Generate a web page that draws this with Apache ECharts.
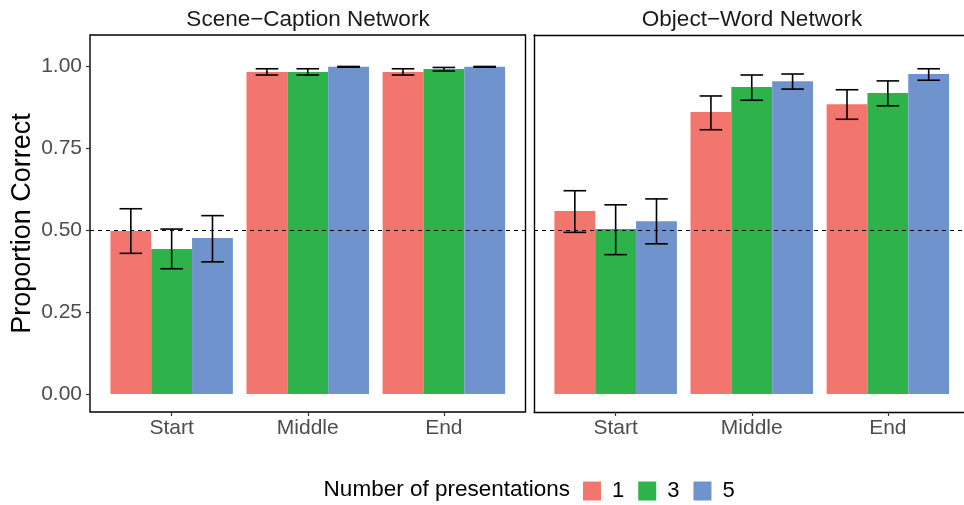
<!DOCTYPE html>
<html>
<head>
<meta charset="utf-8">
<script src="https://cdn.jsdelivr.net/npm/echarts@6/dist/echarts.min.js"></script>
<style>html,body{margin:0;padding:0;background:#fff}#c{width:964px;height:505px}</style>
</head>
<body>
<div id="c"></div>
<script>
// ---- data ----
const categories = ['Start', 'Middle', 'End'];
const groups = ['1', '3', '5'];
const panels = ['Scene\u2212Caption Network', 'Object\u2212Word Network'];
const yTicks = [0, 0.25, 0.5, 0.75, 1.0];
const refLine = 0.5;

// Scene-Caption Network
const sceneMean1 = [0.497, 0.982, 0.982];
const sceneLow1  = [0.429, 0.973, 0.973];
const sceneHigh1 = [0.565, 0.992, 0.992];
const sceneMean3 = [0.442, 0.982, 0.991];
const sceneLow3  = [0.382, 0.973, 0.985];
const sceneHigh3 = [0.503, 0.992, 0.996];
const sceneMean5 = [0.476, 0.998, 0.998];
const sceneLow5  = [0.403, 0.997, 0.997];
const sceneHigh5 = [0.544, 0.999, 0.999];

// Object-Word Network
const objMean1 = [0.558, 0.860, 0.884];
const objLow1  = [0.493, 0.806, 0.838];
const objHigh1 = [0.620, 0.909, 0.928];
const objMean3 = [0.503, 0.936, 0.918];
const objLow3  = [0.425, 0.896, 0.879];
const objHigh3 = [0.577, 0.973, 0.955];
const objMean5 = [0.527, 0.954, 0.976];
const objLow5  = [0.458, 0.930, 0.957];
const objHigh5 = [0.595, 0.976, 0.992];

const colors = ['#F3766E', '#2EB34A', '#6F93CC'];
const FONT = '"Liberation Sans", Arial, Helvetica, sans-serif';

const panelData = [
  { means: [sceneMean1, sceneMean3, sceneMean5], lows: [sceneLow1, sceneLow3, sceneLow5], highs: [sceneHigh1, sceneHigh3, sceneHigh5] },
  { means: [objMean1, objMean3, objMean5], lows: [objLow1, objLow3, objLow5], highs: [objHigh1, objHigh3, objHigh5] }
];

const BARW = 0.3;
const WHISK = 0.083;
const PANEL_W = 435.5;
const UNIT = PANEL_W / 3.2;
const RIGHT_W = 430; // right panel is cut by the image edge
const RIGHT_MAX = 0.4 + RIGHT_W / UNIT;
const BORDER = { color: '#000', width: 1.4 };

const chart = echarts.init(document.getElementById('c'), null, { renderer: 'canvas' });

const grids = [
  { left: 90, top: 35, width: PANEL_W, height: 377, show: true, borderColor: '#000', borderWidth: 1.4, backgroundColor: 'transparent' },
  { left: 534, top: 35, width: RIGHT_W, height: 377, show: false }
];

const xAxes = [0, 1].map(i => ({
  type: 'value', gridIndex: i, min: 0.4, max: i === 0 ? 3.6 : RIGHT_MAX,
  axisLine: { show: i === 1, onZero: false, lineStyle: BORDER },
  splitLine: { show: false },
  axisTick: { show: true, customValues: [1, 2, 3], length: 4, lineStyle: { color: '#333', width: 1.2 } },
  axisLabel: { show: true, customValues: [1, 2, 3], formatter: v => categories[Math.round(v) - 1] || '', color: '#4D4D4D', fontSize: 21, fontFamily: FONT, margin: 6 }
}));
xAxes.push({
  type: 'value', gridIndex: 1, position: 'top', min: 0.4, max: RIGHT_MAX,
  axisLine: { show: true, onZero: false, lineStyle: BORDER },
  axisTick: { show: false }, axisLabel: { show: false }, splitLine: { show: false }
});

const yAxes = [0, 1].map(i => ({
  type: 'value', gridIndex: i, min: -0.055, max: 1.095,
  axisLine: { show: i === 1, onZero: false, lineStyle: BORDER },
  splitLine: { show: false },
  axisTick: { show: i === 0, customValues: yTicks, length: 4, lineStyle: { color: '#333', width: 1.2 } },
  axisLabel: { show: i === 0, customValues: yTicks, formatter: v => v.toFixed(2), color: '#4D4D4D', fontSize: 21, fontFamily: FONT, margin: 8 },
  name: i === 0 ? 'Proportion Correct' : '',
  nameLocation: 'middle', nameRotate: 90, nameGap: 54,
  nameTextStyle: { color: '#000', fontSize: 27, fontFamily: FONT }
}));

const series = [];
panelData.forEach((pd, p) => {
  groups.forEach((gname, g) => {
    const off = (g - 1) * BARW;
    const barData = categories.map((c, k) => [k + 1, pd.means[g][k]]);
    const s = {
      type: 'custom', name: gname, xAxisIndex: p, yAxisIndex: p,
      itemStyle: { color: colors[g] },
      z: 2,
      renderItem: (params, api) => {
        const x = api.value(0), y = api.value(1);
        const a = api.coord([x + off - BARW / 2, y]);
        const b = api.coord([x + off + BARW / 2, 0]);
        return { type: 'rect', shape: { x: a[0], y: a[1], width: b[0] - a[0], height: b[1] - a[1] }, style: { fill: colors[g] } };
      },
      data: barData
    };
    if (g === 2) {
      s.markLine = {
        silent: true, symbol: 'none', z: 10,
        label: { show: false },
        lineStyle: { color: '#000', type: [4, 4], width: 1 },
        data: [{ yAxis: refLine }]
      };
    }
    series.push(s);
    const errData = categories.map((c, k) => [k + 1, pd.lows[g][k], pd.highs[g][k]]);
    series.push({
      type: 'custom', name: 'err' + p + g, xAxisIndex: p, yAxisIndex: p, z: 5,
      renderItem: (params, api) => {
        const x = api.value(0) + off;
        const lo = api.value(1), hi = api.value(2);
        const t = api.coord([x, hi]), bt = api.coord([x, lo]);
        const l1 = api.coord([x - WHISK, hi]), r1 = api.coord([x + WHISK, hi]);
        const l2 = api.coord([x - WHISK, lo]), r2 = api.coord([x + WHISK, lo]);
        const st = { stroke: '#000', lineWidth: 1.6 };
        return { type: 'group', children: [
          { type: 'line', shape: { x1: t[0], y1: t[1], x2: bt[0], y2: bt[1] }, style: st },
          { type: 'line', shape: { x1: l1[0], y1: l1[1], x2: r1[0], y2: r1[1] }, style: st },
          { type: 'line', shape: { x1: l2[0], y1: l2[1], x2: r2[0], y2: r2[1] }, style: st }
        ] };
      },
      data: errData
    });
  });
});

chart.setOption({
  animation: false,
  backgroundColor: '#fff',
  grid: grids,
  xAxis: xAxes,
  yAxis: yAxes,
  legend: {
    data: groups.map((g, i) => ({ name: g, itemStyle: { color: colors[i] } })),
    left: 583, top: 480, orient: 'horizontal', padding: 0,
    icon: 'rect', itemWidth: 18, itemHeight: 19, itemGap: 14,
    textStyle: { color: '#000', fontSize: 22, fontFamily: FONT, padding: [0, 0, 0, 6] },
    selectedMode: false
  },
  graphic: [
    { type: 'text', x: 308, y: 20, style: { text: panels[0], fill: '#1A1A1A', fontSize: 22.5, fontFamily: FONT, align: 'center', verticalAlign: 'middle' } },
    { type: 'text', x: 752, y: 20, style: { text: panels[1], fill: '#1A1A1A', fontSize: 22.5, fontFamily: FONT, align: 'center', verticalAlign: 'middle' } },
    { type: 'text', x: 570, y: 490, style: { text: 'Number of presentations', fill: '#000', fontSize: 22.5, fontFamily: FONT, align: 'right', verticalAlign: 'middle' } }
  ],
  series: series
});
</script>
</body>
</html>
